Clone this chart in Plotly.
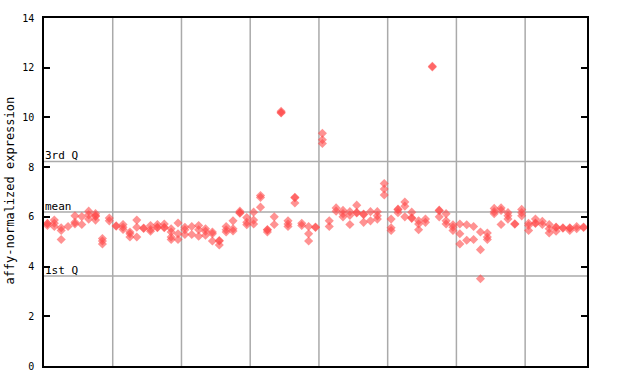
import plotly.graph_objects as go

# replicate values per sample (sample index 1..79)
samples = list(range(1, 80))
replicates = [
    [5.74, 5.72, 5.65],          # 1
    [5.87, 5.74, 5.61],          # 2
    [5.56, 5.45, 5.09],          # 3
    [5.61],                      # 4
    [6.04, 5.78, 5.71],          # 5
    [6.01, 5.69],                # 6
    [6.23, 6.08, 5.91],          # 7
    [6.13, 6.04, 6.02, 5.87],    # 8
    [5.13, 5.03, 4.91],          # 9
    [5.95, 5.84],                # 10
    [5.64, 5.62],                # 11
    [5.69, 5.58, 5.49],          # 12
    [5.39, 5.32, 5.19],          # 13
    [5.87, 5.58, 5.19],          # 14
    [5.55, 5.53],                # 15
    [5.65, 5.49, 5.42],          # 16
    [5.69, 5.58, 5.56],          # 17
    [5.71, 5.58, 5.56],          # 18
    [5.52, 5.39, 5.19, 5.09],    # 19
    [5.75, 5.32, 5.09],          # 20
    [5.58, 5.48, 5.29],          # 21
    [5.61, 5.29],                # 22
    [5.65, 5.48, 5.22],          # 23
    [5.52, 5.42, 5.26],          # 24
    [5.39, 5.32, 5.03],          # 25
    [5.05, 5.03, 4.87],          # 26
    [5.61, 5.48, 5.39],          # 27
    [5.84, 5.52, 5.43],          # 28
    [6.23, 6.17, 6.15],          # 29
    [5.97, 5.78, 5.68],          # 30
    [6.19, 5.87, 5.71],          # 31
    [6.86, 6.78, 6.39],          # 32
    [5.49, 5.47, 5.39],          # 33
    [6.00, 5.69],                # 34
    [10.25, 10.2, 10.18],        # 35
    [5.84, 5.71, 5.61],          # 36
    [6.79, 6.77, 6.56],          # 37
    [5.74, 5.65],                # 38
    [5.61, 5.32, 5.03],          # 39
    [5.59, 5.57],                # 40
    [9.36, 9.10, 8.95],          # 41
    [5.84, 5.61],                # 42
    [6.36, 6.23],                # 43
    [6.26, 6.13, 6.00],          # 44
    [6.21, 6.06, 5.69],          # 45
    [6.47, 6.18, 6.16],          # 46
    [6.11, 6.09, 5.78],          # 47
    [6.21, 5.84],                # 48
    [6.21, 6.04, 5.91],          # 49
    [7.34, 7.12, 6.88],          # 50
    [5.91, 5.56, 5.45],          # 51
    [6.31, 6.29, 6.17],          # 52
    [6.60, 6.43, 6.00],          # 53
    [6.19, 5.96, 5.94],          # 54
    [5.84, 5.71, 5.48],          # 55
    [5.91, 5.78],                # 56
    [12.06, 12.03],              # 57
    [6.27, 6.25, 6.00],          # 58
    [6.13, 5.84, 5.71],          # 59
    [5.68, 5.58, 5.45],          # 60
    [5.71, 5.32, 4.91],          # 61
    [5.68, 5.06],                # 62
    [5.61, 5.09],                # 63
    [5.39, 4.68, 3.51],          # 64
    [5.35, 5.19, 5.09],          # 65
    [6.34, 6.21, 6.13],          # 66
    [6.36, 6.26, 5.69],          # 67
    [6.17, 6.04, 5.91],          # 68
    [5.72, 5.70],                # 69
    [6.30, 6.17, 6.04],          # 70
    [5.74, 5.65, 5.45],          # 71
    [5.91, 5.75, 5.73],          # 72
    [5.82, 5.69],                # 73
    [5.69, 5.52, 5.35],          # 74
    [5.59, 5.57, 5.42],          # 75
    [5.56, 5.54],                # 76
    [5.56, 5.54, 5.45],          # 77
    [5.61, 5.52],                # 78
    [5.59, 5.57],                # 79
]

quartile_names = ["3rd Q", "mean", "1st Q"]
quartile_values = [8.23, 6.20, 3.62]
group_bounds = [10.5, 20.5, 30.5, 40.5, 50.5, 60.5, 70.5]
y_ticks = [0, 2, 4, 6, 8, 10, 12, 14]

xs, ys = [], []
for s, vals in zip(samples, replicates):
    for v in vals:
        xs.append(s)
        ys.append(v)

FONT = "DejaVu Sans Mono"
GRID = "#aaaaaa"

fig = go.Figure()
fig.add_trace(go.Scatter(
    x=xs, y=ys, mode="markers",
    marker=dict(symbol="diamond", size=7, color="#ff4a4a", opacity=0.6,
                line=dict(width=0)),
    showlegend=False, hoverinfo="skip",
))

shapes = []
for b in group_bounds:
    shapes.append(dict(type="line", xref="x", yref="paper", x0=b, x1=b, y0=0, y1=1,
                       line=dict(color=GRID, width=1.5), layer="below"))
for v in quartile_values:
    shapes.append(dict(type="line", xref="paper", yref="y", x0=0, x1=1, y0=v, y1=v,
                       line=dict(color=GRID, width=1.5), layer="below"))

annotations = []
for name, v in zip(quartile_names, quartile_values):
    annotations.append(dict(text=name, xref="paper", yref="y", x=0, y=v,
                            xanchor="left", yanchor="bottom", showarrow=False,
                            font=dict(family=FONT, size=11, color="black"),
                            xshift=-1, yshift=-3))
annotations.append(dict(text="affy-normalized expression", xref="paper", yref="paper",
                        x=-0.0626, y=0.504, xanchor="center", yanchor="middle",
                        textangle=-90, showarrow=False,
                        font=dict(family=FONT, size=12, color="black")))

fig.update_layout(
    width=640, height=384,
    margin=dict(l=44, r=53, t=14, b=15),
    paper_bgcolor="white", plot_bgcolor="white",
    shapes=shapes, annotations=annotations,
    xaxis=dict(range=[0.5, 79.5], showgrid=False, zeroline=False,
               showticklabels=False, ticks="", showline=True, linecolor="black",
               linewidth=1.5, mirror=True),
    yaxis=dict(range=[0, 14], tickvals=y_ticks, showgrid=False, zeroline=False,
               ticks="inside", ticklen=6, tickwidth=1.5, tickcolor="black",
               showline=True, linecolor="black", linewidth=1.5, mirror="ticks",
               ticklabelstandoff=6,
               tickfont=dict(family=FONT, size=10, color="black")),
)

fig.write_html("out.html")
